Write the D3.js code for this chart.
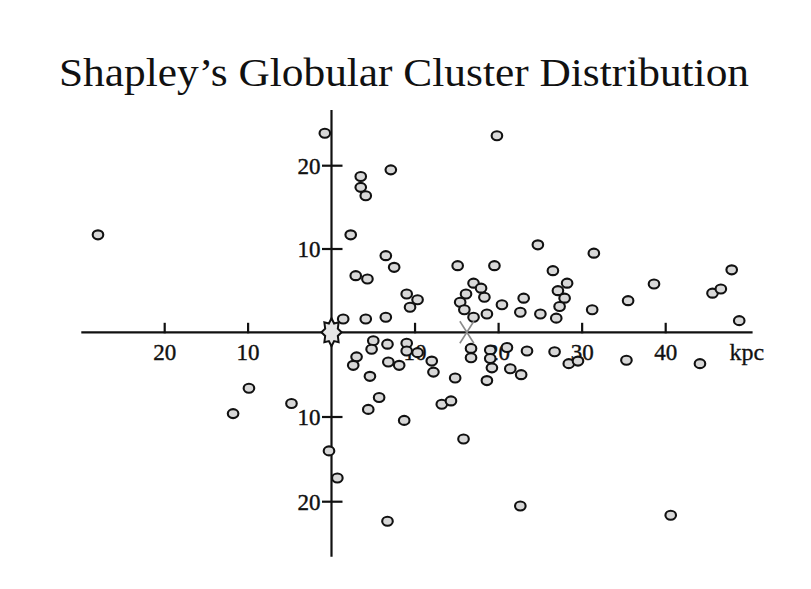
<!DOCTYPE html>
<html>
<head>
<meta charset="utf-8">
<script src="https://cdn.jsdelivr.net/npm/d3@7"></script>
<style>
  html, body { margin: 0; padding: 0; background: #fff; }
  svg { display: block; }
</style>
</head>
<body>
<svg id="chart" width="811" height="589"></svg>
<script>
// Globular cluster positions (kpc) projected on the galactic plane, Sun at the origin.
const clusterX = [
  -28.0, -0.8, 19.8, 7.1, 3.5, 3.5, 4.1, 2.3, 6.5, 7.5, 2.9, 4.3, 9.0, 10.3, 9.4, 1.4, 4.1, 6.5,
  15.1, 19.5, 24.7, 26.5, 31.4, 17.0, 17.9, 16.1, 18.3, 15.4, 15.9, 17.0, 18.6, 20.4, 23.0, 22.6,
  25.0, 28.2, 27.1, 27.9, 27.3, 26.9, 31.2, 35.5, 38.6, 47.9, 45.6, 46.6, 48.8,
  -9.9, -11.8, -4.8, -0.3, 0.7, 6.7, 5.0, 4.8, 6.7, 9.0, 9.0, 10.3, 3.0, 2.6, 6.8, 8.1, 4.6,
  12.0, 12.2, 14.8, 5.7, 4.4, 13.2, 14.3, 8.7, 16.7, 16.7, 19.0, 19.0, 19.2, 18.6, 21.0, 21.4,
  22.7, 23.4, 26.7, 28.4, 29.5, 35.3, 44.1, 15.8, 22.6, 40.6
];
const clusterY = [
  11.7, 23.9, 23.6, 19.5, 18.7, 17.4, 16.4, 11.7, 9.2, 7.8, 6.8, 6.4, 4.6, 3.9, 3.0, 1.6, 1.6, 1.8,
  8.0, 8.0, 10.5, 7.4, 9.5, 5.9, 5.3, 4.6, 4.2, 3.6, 2.7, 1.8, 2.2, 3.3, 4.1, 2.4,
  2.2, 5.9, 5.0, 4.1, 3.1, 1.7, 2.7, 3.8, 5.8, 7.5, 4.7, 5.2, 1.4,
  -6.6, -9.6, -8.4, -14.0, -17.2, -22.3, -1.0, -2.0, -1.4, -1.3, -2.2, -2.4, -2.9, -3.9, -3.5, -3.9, -5.2,
  -3.4, -4.7, -5.4, -7.7, -9.1, -8.5, -8.1, -10.4, -1.9, -3.0, -2.1, -3.1, -4.2, -5.7, -1.8, -4.3,
  -5.0, -2.2, -2.3, -3.7, -3.4, -3.3, -3.7, -12.6, -20.5, -21.6
];

// The Sun and the derived centre of the cluster system.
const sunPos = [0, 0];
const centrePos = [16.2, 0];

const xTicks = [-20, -10, 10, 20, 30, 40];
const yTicks = [20, 10, -10, -20];
const xExtent = [-30, 50.4];
const yExtent = [-26.5, 26.7];
const titleText = "Shapley\u2019s Globular Cluster Distribution";
const unitText = "kpc";

const svg = d3.select("#chart");

const x = d3.scaleLinear().domain([-20, 0, 40]).range([164.7, 331.5, 665.7]);
const y = d3.scaleLinear().domain([-20, 0, 20]).range([501.7, 332.3, 165.7]);

const serif = "'Liberation Serif', 'Times New Roman', serif";

// Title
svg.append("text")
  .attr("x", 59).attr("y", 86)
  .attr("textLength", 690).attr("lengthAdjust", "spacingAndGlyphs")
  .attr("font-family", serif).attr("font-size", 40)
  .attr("fill", "#111")
  .text(titleText);

const axes = svg.append("g").attr("stroke", "#111").attr("stroke-width", 2.2);

// Crossed axes through the origin
axes.append("line")
  .attr("x1", x(xExtent[0])).attr("x2", x(xExtent[1]))
  .attr("y1", y(0)).attr("y2", y(0));
axes.append("line")
  .attr("x1", x(0)).attr("x2", x(0))
  .attr("y1", y(yExtent[1])).attr("y2", y(yExtent[0]));

// Tick marks
axes.selectAll(".xt").data(xTicks).join("line")
  .attr("x1", d => x(d)).attr("x2", d => x(d))
  .attr("y1", y(0) - 9.5).attr("y2", y(0) + 1);
axes.selectAll(".yt").data(yTicks).join("line")
  .attr("x1", x(0) - 9.5).attr("x2", x(0) + 11)
  .attr("y1", d => y(d)).attr("y2", d => y(d));

// Tick labels show distances, so signs are dropped
svg.append("g").selectAll("text").data(xTicks).join("text")
  .attr("x", d => x(d)).attr("y", y(0) + 28)
  .attr("text-anchor", "middle")
  .attr("font-family", serif).attr("font-size", 23).attr("fill", "#111")
  .attr("stroke", "#111").attr("stroke-width", 0.4)
  .text(d => Math.abs(d));
svg.append("g").selectAll("text").data(yTicks).join("text")
  .attr("x", x(0) - 11).attr("y", d => y(d) + 8)
  .attr("text-anchor", "end")
  .attr("font-family", serif).attr("font-size", 23).attr("fill", "#111")
  .attr("stroke", "#111").attr("stroke-width", 0.4)
  .text(d => Math.abs(d));

svg.append("text")
  .attr("x", x(xExtent[1]) - 23).attr("y", y(0) + 28)
  .attr("font-family", serif).attr("font-size", 24).attr("fill", "#111")
  .attr("stroke", "#111").attr("stroke-width", 0.3)
  .text(unitText);

// Cluster markers
const pts = d3.range(clusterX.length).map(i => [clusterX[i], clusterY[i]]);
svg.append("g").selectAll("ellipse").data(pts).join("ellipse")
  .attr("cx", d => x(d[0])).attr("cy", d => y(d[1]))
  .attr("rx", 5.3).attr("ry", 4.5)
  .attr("fill", "#d8d8d8").attr("stroke", "#111").attr("stroke-width", 2.1);

// Centre of the system: a grey cross
const cg = svg.append("g")
  .attr("transform", `translate(${x(centrePos[0])},${y(centrePos[1])})`)
  .attr("stroke", "#8a8a8a").attr("stroke-width", 1.6).attr("fill", "none");
cg.append("line").attr("x1", -7).attr("y1", -11).attr("x2", 7).attr("y2", 11);
cg.append("line").attr("x1", 7).attr("y1", -11).attr("x2", -7).attr("y2", 11);

// The Sun: a spiky grey star
const starPts = d3.range(16).map(i => {
  const a = i * Math.PI / 8;
  const r = i % 2 === 0 ? 14 : 9.5;
  return [r * Math.sin(a) * 0.72, -r * Math.cos(a)];
});
svg.append("path")
  .attr("transform", `translate(${x(sunPos[0])},${y(sunPos[1])})`)
  .attr("d", d3.line()(starPts) + "Z")
  .attr("fill", "#e6e6e6").attr("stroke", "#111").attr("stroke-width", 2)
  .attr("stroke-linejoin", "miter");
</script>
</body>
</html>
